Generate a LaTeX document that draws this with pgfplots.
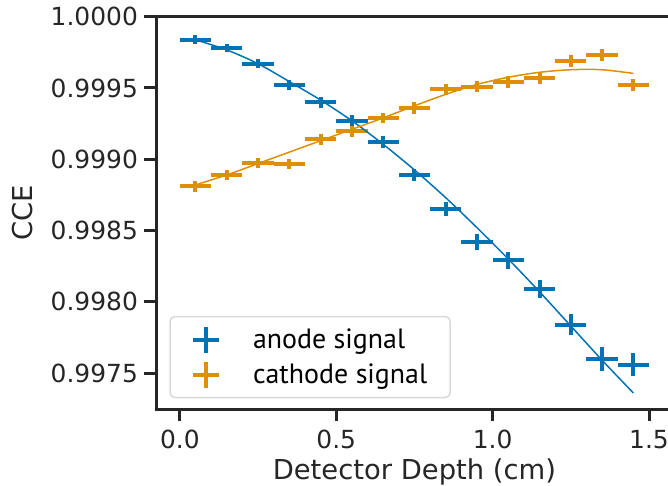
\documentclass[border=0pt]{standalone}
\usepackage{fontspec}
\setmainfont{DejaVu Sans}
\newfontfamily\legendfont{PT Sans}
\usepackage{pgfplots}
\usepackage{pgfplotstable}
\pgfplotsset{compat=1.18}
\definecolor{cblue}{HTML}{0173B2}
\definecolor{corange}{HTML}{DE8F05}
\definecolor{axgray}{HTML}{262626}

\pgfplotstableread{
x y ex ey
0.05 0.99984 0.05 0.000034
0.15 0.99978 0.05 0.000031
0.25 0.99967 0.05 0.000031
0.35 0.99952 0.05 0.000034
0.45 0.99940 0.05 0.000038
0.55 0.99927 0.05 0.000039
0.65 0.99912 0.05 0.000041
0.75 0.99889 0.05 0.000044
0.85 0.99865 0.05 0.000051
0.95 0.99842 0.05 0.000056
1.05 0.99829 0.05 0.000059
1.15 0.99809 0.05 0.000063
1.25 0.99784 0.05 0.000076
1.35 0.99760 0.05 0.000083
1.45 0.99756 0.05 0.000083
}\anode

\pgfplotstableread{
x y ex ey
0.05 0.99881 0.05 0.000037
0.15 0.99889 0.05 0.000036
0.25 0.998974 0.05 0.000035
0.35 0.998967 0.05 0.000038
0.45 0.99914 0.05 0.000040
0.55 0.999195 0.05 0.000038
0.65 0.99929 0.05 0.000037
0.75 0.99936 0.05 0.000040
0.85 0.99949 0.05 0.000038
0.95 0.99951 0.05 0.000041
1.05 0.99954 0.05 0.000041
1.15 0.99957 0.05 0.000043
1.25 0.99969 0.05 0.000041
1.35 0.99973 0.05 0.000041
1.45 0.99952 0.05 0.000041
}\cathode

\pgfplotstableread{
x y
0.05 0.999838
0.15 0.999767
0.25 0.999670
0.35 0.999545
0.45 0.999415
0.55 0.999270
0.65 0.999105
0.75 0.998925
0.85 0.998730
0.95 0.998520
1.05 0.998300
1.15 0.998070
1.25 0.997830
1.35 0.997590
1.45 0.997360
}\anodefit

\pgfplotstableread{
x y
0.05 0.998820
0.15 0.998890
0.25 0.998970
0.35 0.999050
0.45 0.999130
0.55 0.999210
0.65 0.999290
0.75 0.999375
0.85 0.999455
0.95 0.999525
1.05 0.999575
1.15 0.999610
1.25 0.999628
1.35 0.999628
1.45 0.999602
}\cathodefit

\begin{document}
\begin{tikzpicture}
\begin{axis}[
  at={(0,0)}, anchor=south west,
  scale only axis, width=516.1bp, height=392.3bp,
  xmin=-0.075, xmax=1.575, ymin=0.997248, ymax=1.0,
  axis line style={line width=3bp, draw=axgray},
  tick style={line width=3bp, draw=axgray},
  major tick length=12bp,
  tick align=outside, tick pos=left,
  scaled ticks=false,
  xtick={0,0.5,1,1.5}, xticklabels={0.0,0.5,1.0,1.5},
  ytick={0.9975,0.998,0.9985,0.999,0.9995,1.0},
  yticklabels={0.9975,0.9980,0.9985,0.9990,0.9995,1.0000},
  minor tick num=0,
  tick label style={font=\fontsize{25}{30}\selectfont, text=axgray},
  xticklabel style={yshift=-6bp},
  yticklabel style={xshift=-3bp},
  label style={font=\fontsize{27.5}{33}\selectfont, text=axgray},
  xlabel style={at={(axis description cs:0.5,-0.1797)}, anchor=base},
  ylabel style={at={(axis description cs:-0.2391,0.5)}, anchor=base},
  xlabel={Detector Depth (cm)}, ylabel={CCE},
  legend cell align=left,
  legend style={at={(0.025,0.0273)}, anchor=south west, draw=black!15,
    line width=1.5bp, rounded corners=5bp, fill=white,
    font=\legendfont\fontsize{28}{33}\selectfont, text=black,
    inner xsep=21bp, inner ysep=8bp, row sep=5bp,
    /tikz/every odd column/.append style={column sep=30bp}},
]
\addplot[cblue, only marks, mark=none,
  legend image code/.code={\draw[cblue, line width=4bp] (0bp,0bp)--(26bp,0bp) (13bp,-13bp)--(13bp,13bp);},
  error bars/.cd, x dir=both, x explicit, y dir=both, y explicit, error mark=none,
  error bar style={line width=4bp, cblue}]
  table[x=x, y=y, x error=ex, y error=ey]{\anode};
\addlegendentry{anode signal}
\addplot[corange, only marks, mark=none,
  legend image code/.code={\draw[corange, line width=4bp] (0bp,0bp)--(26bp,0bp) (13bp,-13bp)--(13bp,13bp);},
  error bars/.cd, x dir=both, x explicit, y dir=both, y explicit, error mark=none,
  error bar style={line width=4bp, corange}]
  table[x=x, y=y, x error=ex, y error=ey]{\cathode};
\addlegendentry{cathode signal}
\addplot[cblue, line width=1.5bp, smooth, forget plot] table[x=x, y=y]{\anodefit};
\addplot[corange, line width=1.5bp, smooth, forget plot] table[x=x, y=y]{\cathodefit};
\end{axis}
\pgfresetboundingbox
\useasboundingbox (-156.4bp,-77bp) rectangle (511.6bp,409bp);
\end{tikzpicture}
\end{document}
